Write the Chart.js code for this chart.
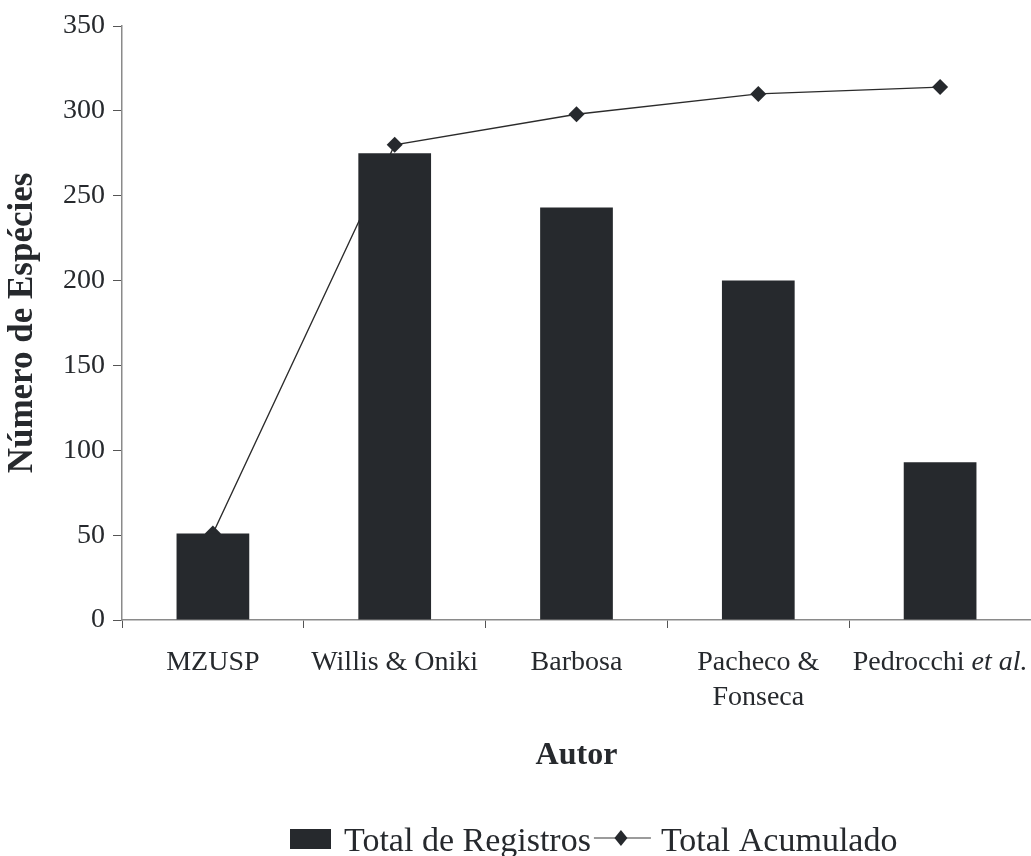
<!DOCTYPE html>
<html>
<head>
<meta charset="utf-8">
<script src="https://cdn.jsdelivr.net/npm/chart.js@4/dist/chart.umd.min.js"></script>
<style>
  html, body { margin: 0; padding: 0; background: #ffffff; overflow: hidden; }
  #wrap { width: 1031px; height: 856px; position: relative; }
</style>
</head>
<body>
<div id="wrap"><canvas id="chart"></canvas></div>
<script>
// Categories (authors) and series
const categories = ['MZUSP', 'Willis & Oniki', 'Barbosa', ['Pacheco &', 'Fonseca'], 'Pedrocchi et al.'];
const italicPhrases = ['et al.'];
const totalRegistros = [51, 275, 243, 200, 93];
const totalAcumulado = [51, 280, 298, 310, 314];
const yTicks = [0, 50, 100, 150, 200, 250, 300, 350];

const seriesNames = ['Total de Registros', 'Total Acumulado'];
const axisTitleY = 'Número de Espécies';
const axisTitleX = 'Autor';

const SERIF = '"Liberation Serif", "Times New Roman", serif';
const INK = '#26292d';
const AXIS = '#8a8a8a';

// Category labels, with Latin abbreviations set in italics
const categoryLabels = {
  id: 'categoryLabels',
  afterDraw(chart) {
    const ctx = chart.ctx;
    const xs = chart.scales.x;
    const size = 28;
    const lineGap = 35;
    const firstBase = 670;
    ctx.save();
    ctx.fillStyle = INK;
    ctx.textBaseline = 'alphabetic';
    ctx.textAlign = 'left';
    categories.forEach((cat, i) => {
      const lines = Array.isArray(cat) ? cat : [cat];
      const cx = xs.getPixelForTick(i);
      lines.forEach((line, j) => {
        // split into normal / italic runs
        let runs = [{ t: line, it: false }];
        italicPhrases.forEach(ph => {
          const next = [];
          runs.forEach(r => {
            if (r.it || r.t.indexOf(ph) < 0) { next.push(r); return; }
            const k = r.t.indexOf(ph);
            if (k > 0) next.push({ t: r.t.slice(0, k), it: false });
            next.push({ t: ph, it: true });
            if (k + ph.length < r.t.length) next.push({ t: r.t.slice(k + ph.length), it: false });
          });
          runs = next;
        });
        let total = 0;
        runs.forEach(r => {
          ctx.font = (r.it ? 'italic ' : '') + size + 'px ' + SERIF;
          r.w = ctx.measureText(r.t).width;
          total += r.w;
        });
        let x = cx - total / 2;
        const y = firstBase + j * lineGap;
        runs.forEach(r => {
          ctx.font = (r.it ? 'italic ' : '') + size + 'px ' + SERIF;
          ctx.fillText(r.t, x, y);
          x += r.w;
        });
      });
    });
    ctx.restore();
  }
};

// Legend drawn centred under the axis title
const bottomLegend = {
  id: 'bottomLegend',
  afterDraw(chart) {
    const ctx = chart.ctx;
    ctx.save();
    ctx.font = '34px ' + SERIF;
    ctx.textBaseline = 'alphabetic';
    const baseY = 851;
    const midY = 838;
    let x = 290;
    // bar swatch
    ctx.fillStyle = INK;
    ctx.fillRect(x, 829, 41, 20);
    x += 41 + 13;
    ctx.fillText(seriesNames[0], x, baseY);
    x += ctx.measureText(seriesNames[0]).width + 3;
    // line swatch with diamond
    ctx.strokeStyle = '#7a7a7a';
    ctx.lineWidth = 1.5;
    ctx.beginPath();
    ctx.moveTo(x, midY);
    ctx.lineTo(x + 57, midY);
    ctx.stroke();
    const cx = x + 27;
    ctx.fillStyle = INK;
    ctx.beginPath();
    ctx.moveTo(cx, midY - 8);
    ctx.lineTo(cx + 6.5, midY);
    ctx.lineTo(cx, midY + 8);
    ctx.lineTo(cx - 6.5, midY);
    ctx.closePath();
    ctx.fill();
    x += 57 + 10;
    ctx.fillText(seriesNames[1], x, baseY);
    ctx.restore();
  }
};

new Chart(document.getElementById('chart'), {
  type: 'bar',
  data: {
    labels: categories,
    datasets: [
      {
        type: 'bar',
        label: seriesNames[0],
        data: totalRegistros,
        backgroundColor: INK,
        borderWidth: 0,
        barPercentage: 0.4,
        categoryPercentage: 1.0,
        order: 0
      },
      {
        type: 'line',
        label: seriesNames[1],
        data: totalAcumulado,
        borderColor: '#2b2b2b',
        borderWidth: 1.4,
        pointStyle: 'rectRot',
        pointRadius: 8,
        pointBackgroundColor: INK,
        pointBorderColor: INK,
        pointBorderWidth: 0,
        tension: 0,
        fill: false,
        clip: false,
        order: 1
      }
    ]
  },
  options: {
    responsive: true,
    maintainAspectRatio: false,
    animation: false,
    layout: { autoPadding: false, padding: { top: 26, right: -3, bottom: 0, left: 0 } },
    plugins: {
      legend: { display: false },
      tooltip: { enabled: false }
    },
    scales: {
      x: {
        grid: {
          display: true,
          drawOnChartArea: false,
          drawTicks: true,
          tickLength: 8,
          tickColor: '#555555',
          tickWidth: 1,
          offset: true
        },
        border: { display: true, color: AXIS, width: 1.5 },
        ticks: { display: false, autoSkip: false },
        title: {
          display: true,
          text: axisTitleX,
          color: INK,
          font: { family: SERIF, size: 32, weight: 'bold', lineHeight: 1.2 },
          padding: { top: 0, bottom: 81 }
        },
        afterFit(scale) {
          scale.height = 236;
          scale.paddingLeft = 0;
          scale.paddingRight = 0;
        }
      },
      y: {
        min: 0,
        max: 350,
        afterBuildTicks(scale) { scale.ticks = yTicks.map(v => ({ value: v })); },
        grid: {
          display: true,
          drawOnChartArea: false,
          drawTicks: true,
          tickLength: 9,
          tickColor: '#555555',
          tickWidth: 1
        },
        border: { display: true, color: AXIS, width: 1.5 },
        ticks: {
          color: INK,
          padding: 8,
          font: { family: SERIF, size: 28 }
        },
        title: {
          display: true,
          text: axisTitleY,
          color: INK,
          font: { family: SERIF, size: 35, weight: 'bold', lineHeight: 1.2 },
          padding: { top: 2, bottom: 0 }
        },
        afterFit(scale) {
          scale.width = 122;
          scale.paddingTop = 0;
          scale.paddingBottom = 0;
        }
      }
    }
  },
  plugins: [categoryLabels, bottomLegend]
});
</script>
</body>
</html>
